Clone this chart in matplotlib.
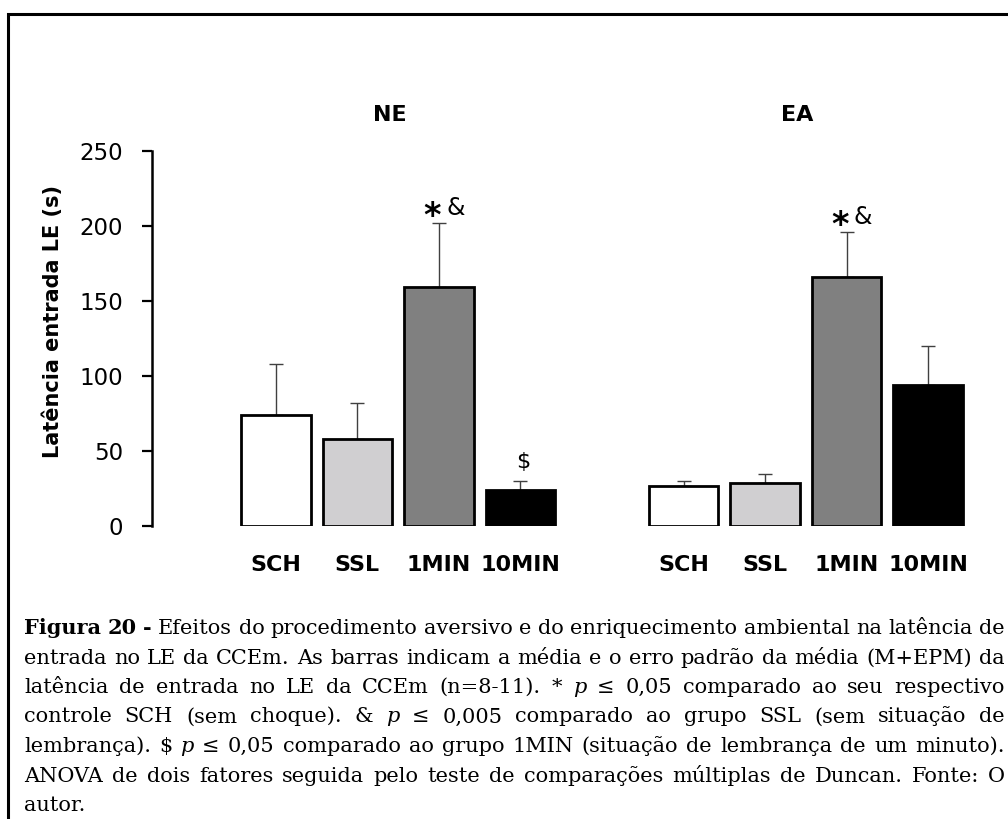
import matplotlib
matplotlib.use("Agg")
import matplotlib.pyplot as plt
from matplotlib.patches import Rectangle
from matplotlib.font_manager import FontProperties
import numpy as np

# latência de entrada no LE (s), média e EPM por grupo
conditions = ["SCH", "SSL", "1MIN", "10MIN"]
groups = ["NE", "EA"]
ne_mean = [74, 58, 159, 24]
ne_sem = [34, 23.5, 42.5, 5.5]
ea_mean = [26.5, 28.5, 166, 94]
ea_sem = [3.5, 6, 29.5, 26]
bar_colors = ["white", "#d0cfd1", "#808080", "black"]

# marcas de significância: (grupo, condição) -> símbolos
signif = {(0, 2): ["*", "&"], (1, 2): ["*", "&"], (0, 3): ["$"]}

caption = [
    "^Figura ^20 ^- Efeitos do procedimento aversivo e do enriquecimento ambiental na latência de",
    "entrada no LE da CCEm. As barras indicam a média e o erro padrão da média (M+EPM) da",
    "latência de entrada no LE da CCEm (n=8-11). * ~p ≤ 0,05 comparado ao seu respectivo",
    "controle SCH (sem choque). & ~p ≤ 0,005 comparado ao grupo SSL (sem situação de",
    "lembrança). $ ~p ≤ 0,05 comparado ao grupo 1MIN (situação de lembrança de um minuto).",
    "ANOVA de dois fatores seguida pelo teste de comparações múltiplas de Duncan. Fonte: O",
    "autor.",
]

W, H = 1008, 819
fig = plt.figure(figsize=(W / 100, H / 100), dpi=100)
ax = fig.add_axes([152 / W, 1 - 525.7 / H, (977 - 152) / W, 375 / H])

x = np.concatenate([np.arange(4), np.arange(4) + 5])
means = ne_mean + ea_mean
sems = ne_sem + ea_sem
colors = bar_colors * 2

ax.bar(x, means, width=0.85, color=colors, edgecolor="black", linewidth=2.0, zorder=2)
ax.errorbar(x, means, yerr=[np.zeros(len(x)), sems], fmt="none", ecolor="#404040",
            elinewidth=1.0, capsize=5, capthick=1.0, zorder=1)

ax.set_xlim(-1.52, 8.6)
ax.set_ylim(0, 250)
ax.set_yticks(np.arange(0, 251, 50))
ax.tick_params(axis="y", labelsize=16.5, length=7, width=1.6, pad=14)
ax.set_xticks(x, conditions * 2, fontsize=16, fontweight="bold")
ax.tick_params(axis="x", length=0, pad=21)
for side in ["top", "right", "bottom"]:
    ax.spines[side].set_visible(False)
ax.spines["left"].set_linewidth(1.8)

ax.set_ylabel("Latência entrada LE (s)", fontsize=15, fontweight="bold", va="center")
ax.yaxis.set_label_coords(-0.12, 0.545)

for g, name in enumerate(groups):
    ax.text(1.4 + 5 * g, 1.095, name, transform=ax.get_xaxis_transform(),
            ha="center", va="center", fontsize=16, fontweight="bold")

for (g, c), syms in signif.items():
    i = g * 4 + c
    top = means[i] + sems[i]
    if syms == ["$"]:
        ax.annotate("$", (x[i], top), xytext=(2, 10), textcoords="offset points",
                    ha="center", va="baseline", fontsize=16, parse_math=False)
    else:
        ax.annotate("*", (x[i], top), xytext=(-5, -2), textcoords="offset points",
                    ha="center", va="baseline", fontsize=24, fontweight="bold")
        ax.annotate("&", (x[i], top), xytext=(12, 6), textcoords="offset points",
                    ha="center", va="baseline", fontsize=17)

# moldura em volta da figura
fig.patches.append(Rectangle((8 / W, -0.05), 1.1, 1.05 - 14 / H, transform=fig.transFigure,
                             fill=False, edgecolor="black", linewidth=2.2))

# legenda justificada
left, right = 24, 1005
base0, step = 634, 29.5
serif = "DejaVu Serif"
base_size = 17
renderer = fig.canvas.get_renderer()

lines = []
for k, line in enumerate(caption):
    words = []
    for tok in line.split(" "):
        style = dict(family=serif, size=base_size)
        if tok.startswith("^"):
            tok, style["weight"] = tok[1:], "bold"
        elif tok.startswith("~"):
            tok, style["style"] = tok[1:], "italic"
        t = fig.text(0, 1 - (base0 + step * k) / H, tok, fontproperties=FontProperties(**style),
                     va="baseline", ha="left", parse_math=False)
        words.append(t)
    lines.append(words)

# a linha mais longa, com espaços normais, define o tamanho da fonte
space = 0.32 * base_size * 100 / 72
natural = [sum(t.get_window_extent(renderer).width for t in ws) + space * (len(ws) - 1)
           for ws in lines[:-1]]
scale = (right - left) / max(natural)
for ws in lines:
    for t in ws:
        t.set_fontsize(base_size * scale)

for k, words in enumerate(lines):
    widths = [t.get_window_extent(renderer).width for t in words]
    if k < len(lines) - 1 and len(words) > 1:
        gap = (right - left - sum(widths)) / (len(words) - 1)
    else:
        gap = space * scale
    pos = left
    for t, w in zip(words, widths):
        t.set_x(pos / W)
        pos += w + gap

fig.savefig("out.png", dpi=100)
